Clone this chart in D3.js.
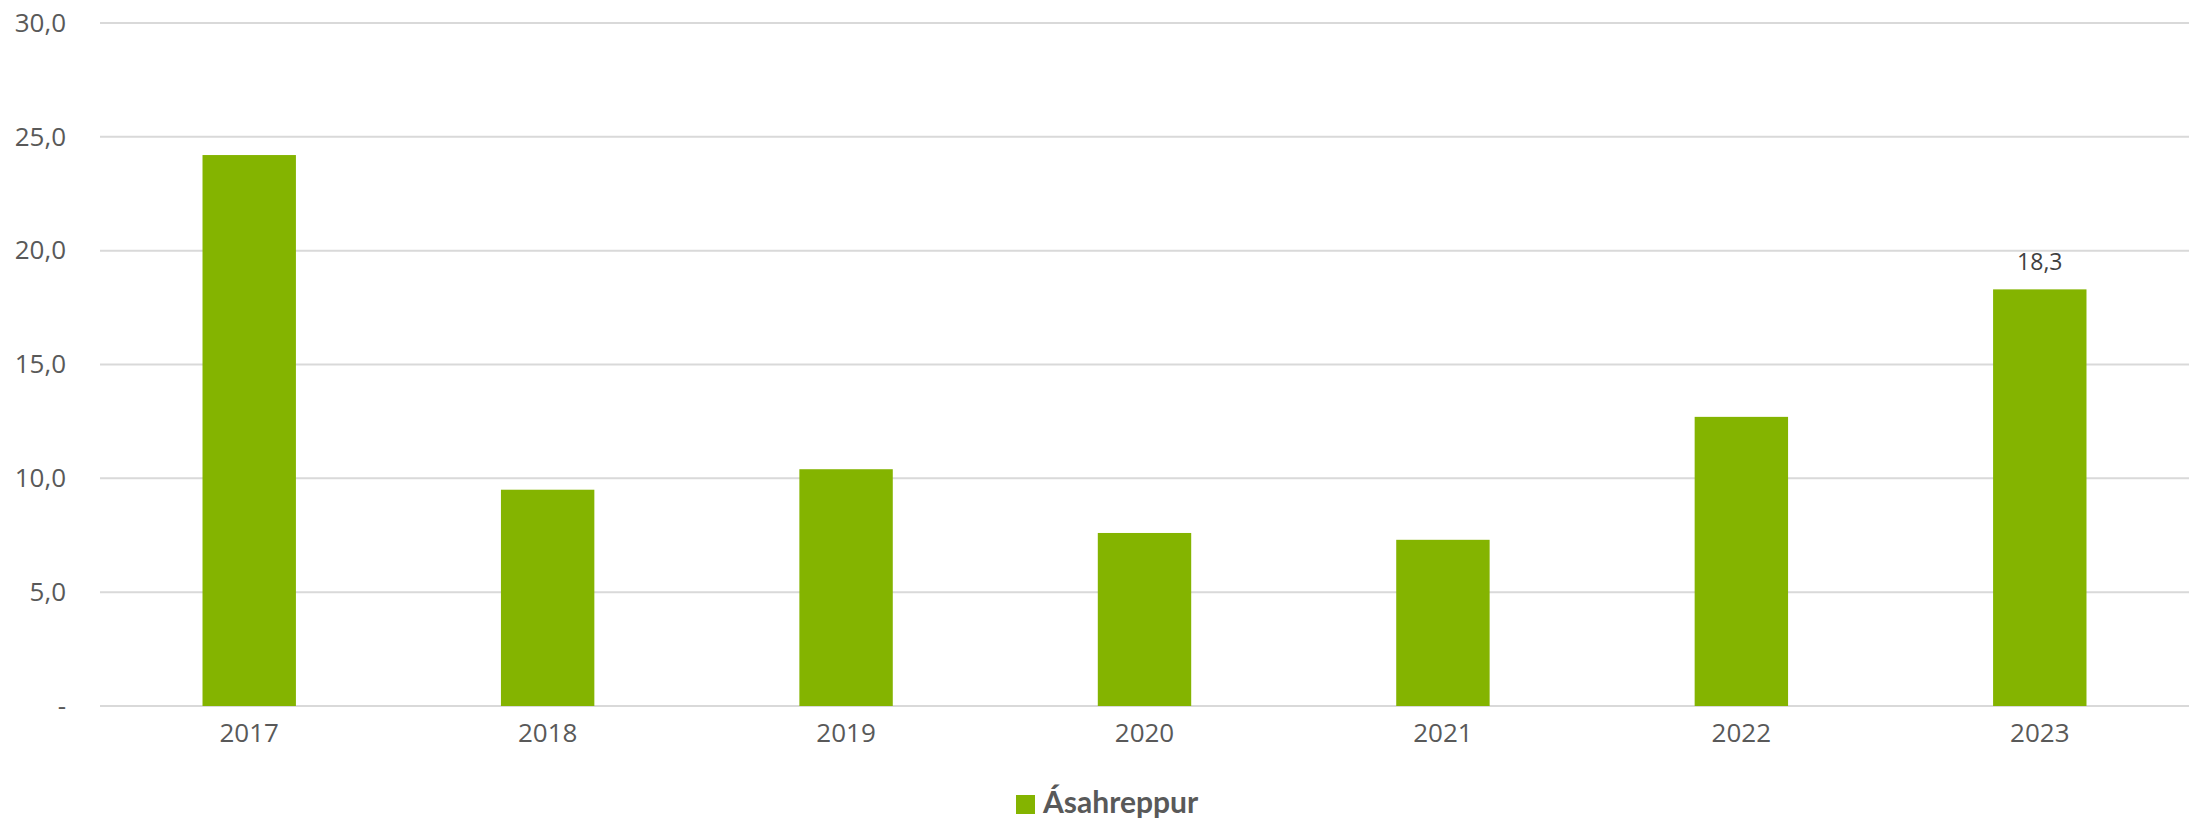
<!DOCTYPE html>
<html>
<head>
<meta charset="utf-8">
<script src="https://cdn.jsdelivr.net/npm/d3@7"></script>
<style>
  html, body { margin: 0; padding: 0; background: #fff; }
  svg { display: block; }
</style>
</head>
<body>
<svg id="chart" width="2200" height="819"></svg>
<script>
// Series data
const years = ["2017", "2018", "2019", "2020", "2021", "2022", "2023"];
const values = [24.2, 9.5, 10.4, 7.6, 7.3, 12.7, 18.3];
const yTicks = [0, 5, 10, 15, 20, 25, 30];
const seriesName = "Ásahreppur";
const labelledYears = ["2023"];

const W = 2200, H = 819;
const margin = { left: 100, right: 11, top: 23, bottom: 113 };
const svg = d3.select("#chart");

const x = d3.scaleBand()
  .domain(years)
  .range([margin.left, W - margin.right])
  .paddingInner(0.687)
  .paddingOuter(0.3435);

const y = d3.scaleLinear()
  .domain([0, 30])
  .range([H - margin.bottom, margin.top]);

const fmt = v => v === 0 ? "-" : d3.format(".1f")(v).replace(".", ",");
const textColor = "#595959";
const barColor = "#84B400";

// Gridlines
svg.append("g")
  .selectAll("line")
  .data(yTicks)
  .join("line")
  .attr("x1", margin.left)
  .attr("x2", W - margin.right)
  .attr("y1", d => y(d))
  .attr("y2", d => y(d))
  .attr("stroke", "#d9d9d9")
  .attr("stroke-width", 2);

// Y axis labels
const yAxis = svg.append("g")
  .attr("transform", `translate(${margin.left},0)`)
  .call(d3.axisLeft(y).tickValues(yTicks).tickFormat(fmt).tickSize(0).tickPadding(34));
yAxis.select(".domain").remove();
yAxis.selectAll("text")
  .attr("fill", textColor)
  .style("font-family", "'Open Sans', sans-serif")
  .style("font-size", "26px");

// Bars
svg.append("g")
  .selectAll("rect")
  .data(years.map((yr, i) => ({ yr, v: values[i] })))
  .join("rect")
  .attr("x", d => x(d.yr))
  .attr("width", x.bandwidth())
  .attr("y", d => y(d.v))
  .attr("height", d => y(0) - y(d.v))
  .attr("fill", barColor);

// X axis labels
const xAxis = svg.append("g")
  .attr("transform", `translate(0,${y(0)})`)
  .call(d3.axisBottom(x).tickSize(0).tickPadding(18));
xAxis.select(".domain").remove();
xAxis.selectAll("text")
  .attr("fill", textColor)
  .style("font-family", "'Open Sans', sans-serif")
  .style("font-size", "26px");

// Value label
svg.append("g")
  .selectAll("text")
  .data(years.map((yr, i) => ({ yr, v: values[i] })).filter(d => labelledYears.includes(d.yr)))
  .join("text")
  .attr("x", d => x(d.yr) + x.bandwidth() / 2)
  .attr("y", d => y(d.v) - 19)
  .attr("text-anchor", "middle")
  .attr("fill", "#404040")
  .style("font-family", "'Open Sans', sans-serif")
  .style("font-size", "23px")
  .text(d => fmt(d.v));

// Legend
const legend = svg.append("g").attr("transform", "translate(1016,795)");
legend.append("rect")
  .attr("width", 19).attr("height", 19)
  .attr("fill", barColor);
legend.append("text")
  .attr("x", 27).attr("y", 18)
  .attr("fill", textColor)
  .style("font-family", "Lato, sans-serif")
  .style("font-weight", "bold")
  .style("font-size", "30px")
  .text(seriesName);
</script>
</body>
</html>
